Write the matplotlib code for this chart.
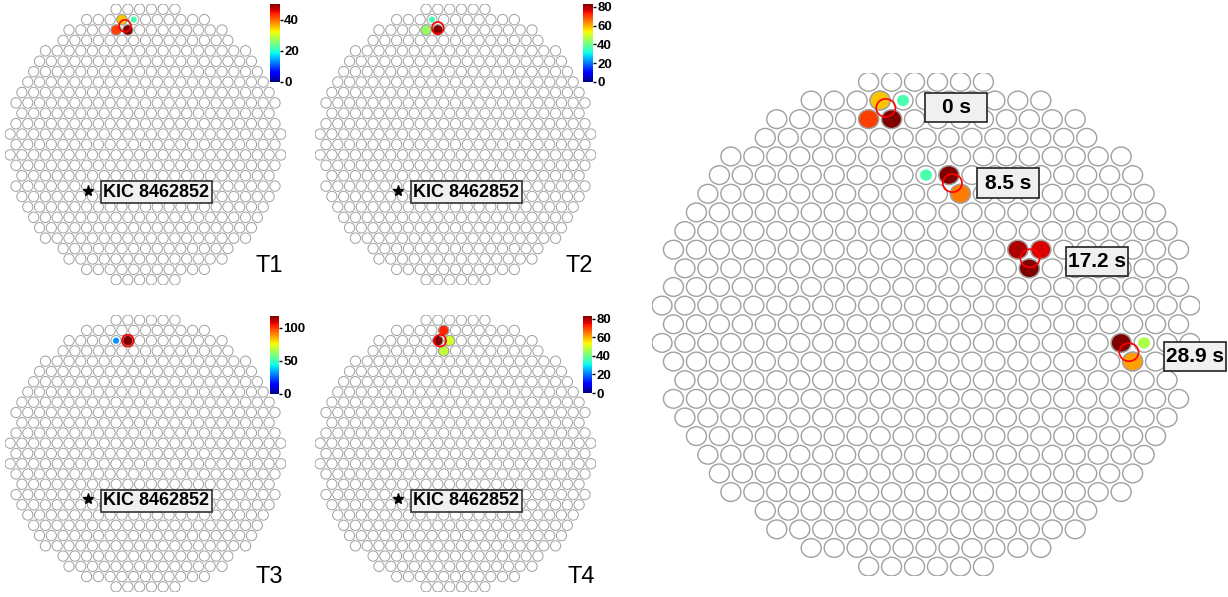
import numpy as np
import matplotlib
matplotlib.use('Agg')
import matplotlib.pyplot as plt
from matplotlib.patches import Circle, Rectangle
from matplotlib.collections import PatchCollection
from matplotlib import cm, colors

plt.rcParams['font.family'] = ['Liberation Sans', 'DejaVu Sans']

W, HPX = 1228, 597
H = np.sqrt(3) / 2
R_CAM = 11.6     # camera radius, in pixel spacings
R_PIX = 0.435    # PMT radius

# ---- data: hit pixels (column, row), signal, boundary flag ----
t1_col = [-2, -1, -2.5, -1.5]
t1_row = [12, 12, 11, 11]
t1_val = [35, 22, 42, 50]
t1_bnd = [False, True, False, False]
t1_src = (-1.75, 11.4)
t1_max = 50

t2_col = [-2, -2.5, -1.5]
t2_row = [12, 11, 11]
t2_val = [36, 44, 83]
t2_bnd = [True, False, False]
t2_src = (-1.5, 11.2)
t2_max = 83

t3_col = [-2.5, -1.5]
t3_row = [11, 11]
t3_val = [32, 118]
t3_bnd = [True, False]
t3_src = (-1.5, 11.0)
t3_max = 118

t4_col = [-1, -1.5, -0.5, -1]
t4_row = [12, 11, 11, 10]
t4_val = [72, 83, 50, 48]
t4_bnd = [False, False, False, False]
t4_src = (-1.3, 11.0)
t4_max = 83

# right panel: T1 images at successive times
seq_time = ['0 s', '8.5 s', '17.2 s', '28.9 s']
seq_col = [[-2, -1, -2.5, -1.5], [0, 1, 1.5], [4, 5, 4.5], [8.5, 9.5, 9]]
seq_row = [[12, 12, 11, 11], [8, 8, 7], [4, 4, 3], [-1, -1, -2]]
seq_val = [[35, 22, 42, 50], [22, 50, 39], [48, 46, 50], [50, 28, 37]]
seq_bnd = [[False, True, False, False], [True, False, False],
           [False, False, False], [False, True, False]]
seq_src_x = [-1.75, 1.15, 4.53, 8.84]
seq_src_row = [11.6, 7.57, 3.54, -1.5]

star_col, star_row = -4.87, -4.47

cmap = plt.get_cmap('jet')

# camera lattice
cam_x, cam_y = [], []
for j in range(-13, 14):
    off = 0.5 * (j % 2)
    for i in range(-13, 14):
        x = i + off
        y = j * H
        if np.hypot(x, y) <= R_CAM:
            cam_x.append(x)
            cam_y.append(y)


def px_axes(fig, x0, y0, x1, y1):
    return fig.add_axes([x0 / W, 1 - y1 / HPX, (x1 - x0) / W, (y1 - y0) / HPX])


def add_hits(ax, cols, rows, vals, bnd, norm, lw):
    for c, r, v, b in zip(cols, rows, vals, bnd):
        if b:
            ax.add_patch(Circle((c, r * H), R_PIX * 0.6, facecolor=cmap(norm(v)), edgecolor='none', zorder=3))
        else:
            ax.add_patch(Circle((c, r * H), R_PIX, facecolor=cmap(norm(v)), edgecolor='#a0a0a0', linewidth=lw, zorder=3))


def draw_camera(ax, lw):
    base = [Circle((x, y), R_PIX) for x, y in zip(cam_x, cam_y)]
    ax.add_collection(PatchCollection(base, facecolor='white', edgecolor='#a0a0a0', linewidth=lw))
    ax.set_xlim(-11.5 - R_PIX, 11.5 + R_PIX)
    ax.set_ylim(-13 * H - R_PIX, 13 * H + R_PIX)
    ax.axis('off')


fig = plt.figure(figsize=(W / 100, HPX / 100), dpi=100)

panels = [
    ('T1', t1_col, t1_row, t1_val, t1_bnd, t1_src, t1_max, (5, 4, 286, 285), (270, 4, 280, 82), [0, 20, 40], (255, 272)),
    ('T2', t2_col, t2_row, t2_val, t2_bnd, t2_src, t2_max, (315, 4, 596, 285), (583, 4, 593, 82), [0, 20, 40, 60, 80], (565, 272)),
    ('T3', t3_col, t3_row, t3_val, t3_bnd, t3_src, t3_max, (5, 315, 286, 592), (270, 316, 279, 394), [0, 50, 100], (255, 583)),
    ('T4', t4_col, t4_row, t4_val, t4_bnd, t4_src, t4_max, (315, 315, 596, 592), (583, 316, 592, 393), [0, 20, 40, 60, 80], (567, 583)),
]

for name, cols, rows, vals, bnd, src, vmax, box, cbox, ticks, lab in panels:
    ax = px_axes(fig, *box)
    norm = colors.Normalize(0, vmax)
    draw_camera(ax, 0.7)
    add_hits(ax, cols, rows, vals, bnd, norm, 0.7)
    ax.add_patch(Circle((src[0], src[1] * H), 0.5, facecolor='none', edgecolor='red', linewidth=1.2, zorder=4))
    ax.plot(star_col, star_row * H, marker='*', color='k', ms=8, zorder=5)
    ax.annotate('KIC 8462852', xy=(star_col, star_row * H), xytext=(49, -1),
                textcoords='offset points', ha='center', va='center',
                fontsize=13, fontweight='bold', zorder=6,
                bbox=dict(boxstyle='square,pad=0.14', fc='#f0f0f0', ec='#333333', lw=1.2))
    cax = px_axes(fig, *cbox)
    cb = fig.colorbar(cm.ScalarMappable(norm=norm, cmap=cmap), cax=cax, ticks=ticks)
    cb.outline.set_visible(False)
    cax.tick_params(length=2.5, width=1, pad=0.5, labelsize=9.5)
    for t in cax.get_yticklabels():
        t.set_fontweight('bold')
    fig.text(lab[0] / W, 1 - lab[1] / HPX, name, fontsize=17)

# right panel
ax = px_axes(fig, 652, 72.5, 1200, 576)
draw_camera(ax, 1.0)
norm = colors.Normalize(0, 50)
for cols, rows, vals, bnd in zip(seq_col, seq_row, seq_val, seq_bnd):
    add_hits(ax, cols, rows, vals, bnd, norm, 1.0)
for sx, sr in zip(seq_src_x, seq_src_row):
    ax.add_patch(Circle((sx, sr * H), 0.42, facecolor='none', edgecolor='red', linewidth=1.2, zorder=4))

lab_x = [1.31, 3.59, 7.43, 11.72]
lab_y = [10.07, 6.56, 2.93, -1.51]
bw, bh = 62 / 22.96, 29 / 21.5
for t, lx, ly in zip(seq_time, lab_x, lab_y):
    ax.add_patch(Rectangle((lx - bw / 2, ly - bh / 2), bw, bh, facecolor='#f0f0f0',
                           edgecolor='#222222', linewidth=1.2, zorder=6, clip_on=False))
    ax.text(lx, ly, t, ha='center', va='center', fontsize=15, fontweight='bold', zorder=7, clip_on=False)

fig.savefig('out.png', dpi=100)
